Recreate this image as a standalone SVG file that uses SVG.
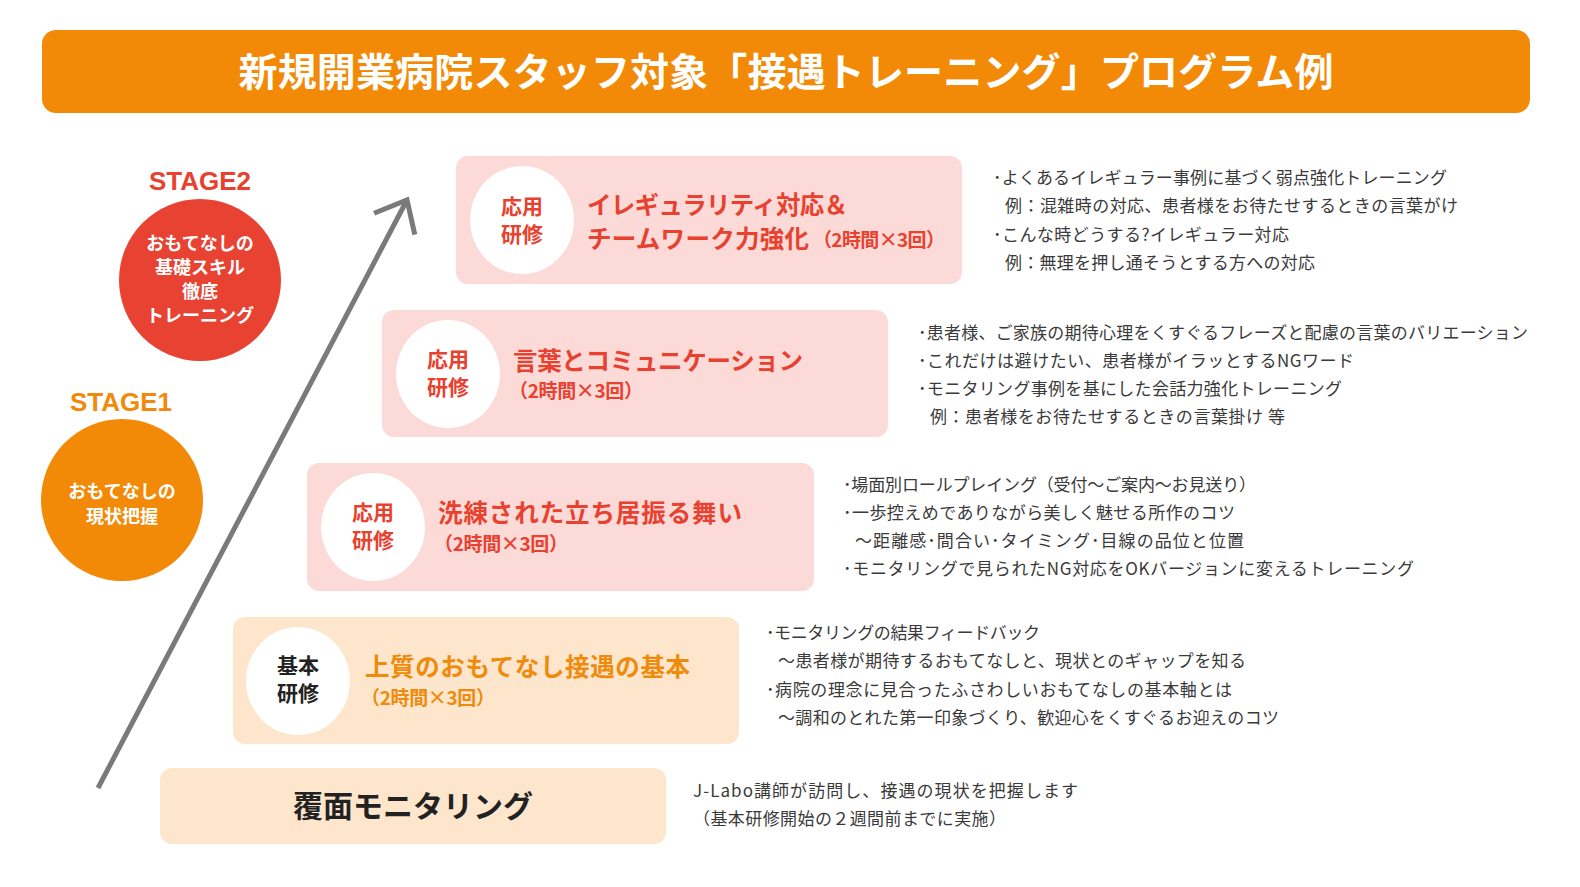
<svg xmlns="http://www.w3.org/2000/svg" width="1580" height="887" viewBox="0 0 1580 887">
<style>
text{font-family:"Noto Sans CJK JP","Noto Sans",sans-serif}
.ttl{font-size:39px;font-weight:700;fill:#fff}
.stage{font-family:"Liberation Sans","Noto Sans CJK JP",sans-serif;font-size:26px;font-weight:700}
.sc{font-size:18px;font-weight:700;fill:#fff}
.pink{fill:#FBDAD8}
.peach{fill:#FDE6CC}
.badge{fill:#fff}
.bt{font-size:21px;font-weight:700}
.red{fill:#E8412F}
.org{fill:#F08A0B}
.blk{fill:#222}
.h{font-size:24.5px;font-weight:700}
.sub{font-size:19px;font-weight:700}
.body{font-size:17px;fill:#3a3a3a}
.conn{stroke:#7a7a7a;stroke-width:5;fill:none}
</style>
<defs>
<marker id="chev" markerUnits="userSpaceOnUse" viewBox="-40 -40 50 80" refX="0" refY="0" markerWidth="50" markerHeight="80" orient="auto" overflow="visible">
<path d="M -27 -23 L 0 0 L -27 23" stroke="#7a7a7a" stroke-width="5" fill="none" stroke-linejoin="miter"/>
</marker>
</defs>
<rect width="1580" height="887" fill="#fff"/>

<g id="title">
<rect x="42" y="30" width="1488" height="83" rx="14" fill="#F28A08"/>
<text class="ttl" x="786" y="86" text-anchor="middle" textLength="1095">新規開業病院スタッフ対象「接遇トレーニング」プログラム例</text>
</g>

<g id="connectors">
<line class="conn" x1="98" y1="788" x2="407" y2="200" marker-end="url(#chev)"/>
</g>

<g id="stage2">
<text class="stage red" x="200" y="190" text-anchor="middle">STAGE2</text>
<circle cx="200" cy="280" r="81" fill="#E84332"/>
<text class="sc" text-anchor="middle"><tspan x="200" y="250">おもてなしの</tspan><tspan x="200" y="274">基礎スキル</tspan><tspan x="200" y="298">徹底</tspan><tspan x="200" y="322">トレーニング</tspan></text>
</g>

<g id="stage1">
<text class="stage org" x="121" y="411" text-anchor="middle">STAGE1</text>
<circle cx="122" cy="500" r="81" fill="#F28A08"/>
<text class="sc" text-anchor="middle"><tspan x="122" y="498">おもてなしの</tspan><tspan x="122" y="523">現状把握</tspan></text>
</g>

<g id="box-irregular">
<rect class="pink" x="456" y="156" width="506" height="128" rx="12"/>
<ellipse class="badge" cx="522" cy="220" rx="52" ry="54"/>
<text class="bt red" x="522" y="214" text-anchor="middle">応用</text>
<text class="bt red" x="522" y="242" text-anchor="middle">研修</text>
<text class="h red" x="587" y="214" textLength="261">イレギュラリティ対応＆</text>
<text class="h red" x="587" y="248" textLength="222">チームワーク力強化</text>
<text class="sub red" x="813" y="247" textLength="132">（2時間×3回）</text>
<text class="body"><tspan x="993" y="184" textLength="454">･よくあるイレギュラー事例に基づく弱点強化トレーニング</tspan><tspan x="1005" y="212" textLength="453">例：混雑時の対応、患者様をお待たせするときの言葉がけ</tspan><tspan x="993" y="241" textLength="296">･こんな時どうする?イレギュラー対応</tspan><tspan x="1005" y="269" textLength="310">例：無理を押し通そうとする方への対応</tspan></text>
</g>

<g id="box-words">
<rect class="pink" x="382" y="310" width="506" height="127" rx="12"/>
<ellipse class="badge" cx="448" cy="374" rx="52" ry="54"/>
<text class="bt red" x="448" y="367" text-anchor="middle">応用</text>
<text class="bt red" x="448" y="395" text-anchor="middle">研修</text>
<text class="h red" x="513" y="370" textLength="290">言葉とコミュニケーション</text>
<text class="sub red" x="509" y="398" textLength="134">（2時間×3回）</text>
<text class="body"><tspan x="918" y="339" textLength="610">･患者様、ご家族の期待心理をくすぐるフレーズと配慮の言葉のバリエーション</tspan><tspan x="918" y="367" textLength="436">･これだけは避けたい、患者様がイラッとするNGワード</tspan><tspan x="918" y="395" textLength="424">･モニタリング事例を基にした会話力強化トレーニング</tspan><tspan x="930" y="423" textLength="355">例：患者様をお待たせするときの言葉掛け 等</tspan></text>
</g>

<g id="box-manner">
<rect class="pink" x="307" y="463" width="507" height="128" rx="12"/>
<ellipse class="badge" cx="373" cy="527" rx="52" ry="54"/>
<text class="bt red" x="373" y="520" text-anchor="middle">応用</text>
<text class="bt red" x="373" y="548" text-anchor="middle">研修</text>
<text class="h red" x="438" y="522" textLength="304">洗練された立ち居振る舞い</text>
<text class="sub red" x="434" y="551" textLength="134">（2時間×3回）</text>
<text class="body"><tspan x="843" y="491" textLength="413">･場面別ロールプレイング（受付〜ご案内〜お見送り）</tspan><tspan x="843" y="519" textLength="392">･一歩控えめでありながら美しく魅せる所作のコツ</tspan><tspan x="855" y="547" textLength="389">〜距離感･間合い･タイミング･目線の品位と位置</tspan><tspan x="843" y="575" textLength="571">･モニタリングで見られたNG対応をOKバージョンに変えるトレーニング</tspan></text>
</g>

<g id="box-basic">
<rect class="peach" x="233" y="617" width="506" height="127" rx="12"/>
<ellipse class="badge" cx="298" cy="681" rx="52" ry="54"/>
<text class="bt blk" x="298" y="673" text-anchor="middle">基本</text>
<text class="bt blk" x="298" y="701" text-anchor="middle">研修</text>
<text class="h org" x="365" y="676" textLength="325">上質のおもてなし接遇の基本</text>
<text class="sub org" x="361" y="705" textLength="134">（2時間×3回）</text>
<text class="body"><tspan x="766" y="639" textLength="274">･モニタリングの結果フィードバック</tspan><tspan x="778" y="667" textLength="468">〜患者様が期待するおもてなしと、現状とのギャップを知る</tspan><tspan x="766" y="696" textLength="466">･病院の理念に見合ったふさわしいおもてなしの基本軸とは</tspan><tspan x="778" y="724" textLength="501">〜調和のとれた第一印象づくり、歓迎心をくすぐるお迎えのコツ</tspan></text>
</g>

<g id="box-monitoring">
<rect class="peach" x="160" y="768" width="506" height="76" rx="12"/>
<text class="blk" x="413" y="817" text-anchor="middle" font-size="30" font-weight="700">覆面モニタリング</text>
<text class="body"><tspan x="693" y="797" textLength="385">J-Labo講師が訪問し、接遇の現状を把握します</tspan><tspan x="693" y="825" textLength="313">（基本研修開始の２週間前までに実施）</tspan></text>
</g>
</svg>
